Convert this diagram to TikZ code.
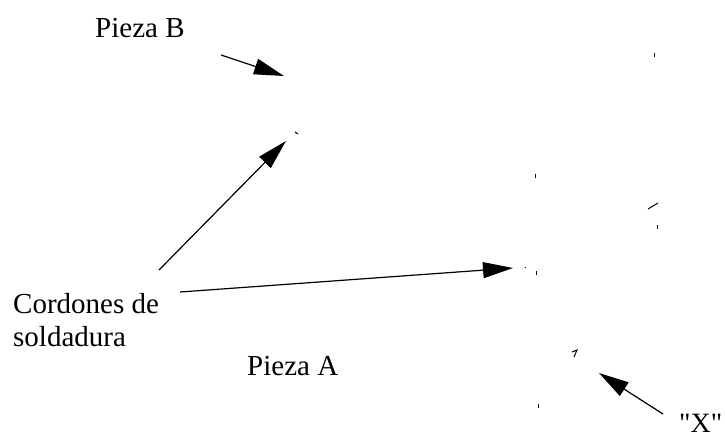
\documentclass[tikz,border=0pt]{standalone}
\usepackage{fontspec}
\setmainfont{Liberation Serif}
\newfontfamily\plainserif{Liberation Serif}
\usetikzlibrary{arrows.meta}
\tikzset{
  lbl/.style={inner sep=0pt, anchor=base west, font=\fontsize{29}{33}\selectfont},
  ptr/.style={line width=1.2pt, -{Triangle[length=30pt,width=16pt]}},
  speck/.style={line width=1pt}
}
\begin{document}
\begin{tikzpicture}[x=1pt,y=-1pt]
\useasboundingbox (0,0) rectangle (725,437);
% labels
\node[lbl] (pb) at (95,37) {Pieza B};
\node[lbl] (pa) at (247,375) {Pieza A};
\node[lbl] (c1) at (13,313) {Cordones de};
\node[lbl] (c2) at (13,346) {soldadura};
\node[lbl, font=\plainserif\fontsize{28}{33}\selectfont] (x) at (679,432) {"X"};
% arrow ends
\coordinate (b0) at (221,55);  \coordinate (b1) at (284,76);
\coordinate (s0) at (159,270); \coordinate (s1) at (286,141);
\coordinate (t0) at (180,292); \coordinate (t1) at (513,268);
\coordinate (x0) at (663,414); \coordinate (x1) at (599,373);
\draw[ptr] (b0) -- (b1);
\draw[ptr] (s0) -- (s1);
\draw[ptr] (t0) -- (t1);
\draw[ptr] (x0) -- (x1);
% small scan marks
\draw[speck] (295,132) -- (298,134);
\draw[speck] (654,53) -- (654,57);
\draw[speck] (535,174) -- (535,178);
\draw[speck] (648,209) -- (658,203);
\draw[speck] (657,225) -- (657,229);
\draw[speck] (525,267) -- (525.5,268);
\draw[speck] (536,271) -- (536,275);
\draw[speck] (572,352) -- (577,350) -- (574,357);
\draw[speck] (538,404) -- (538,408);
\end{tikzpicture}
\end{document}
